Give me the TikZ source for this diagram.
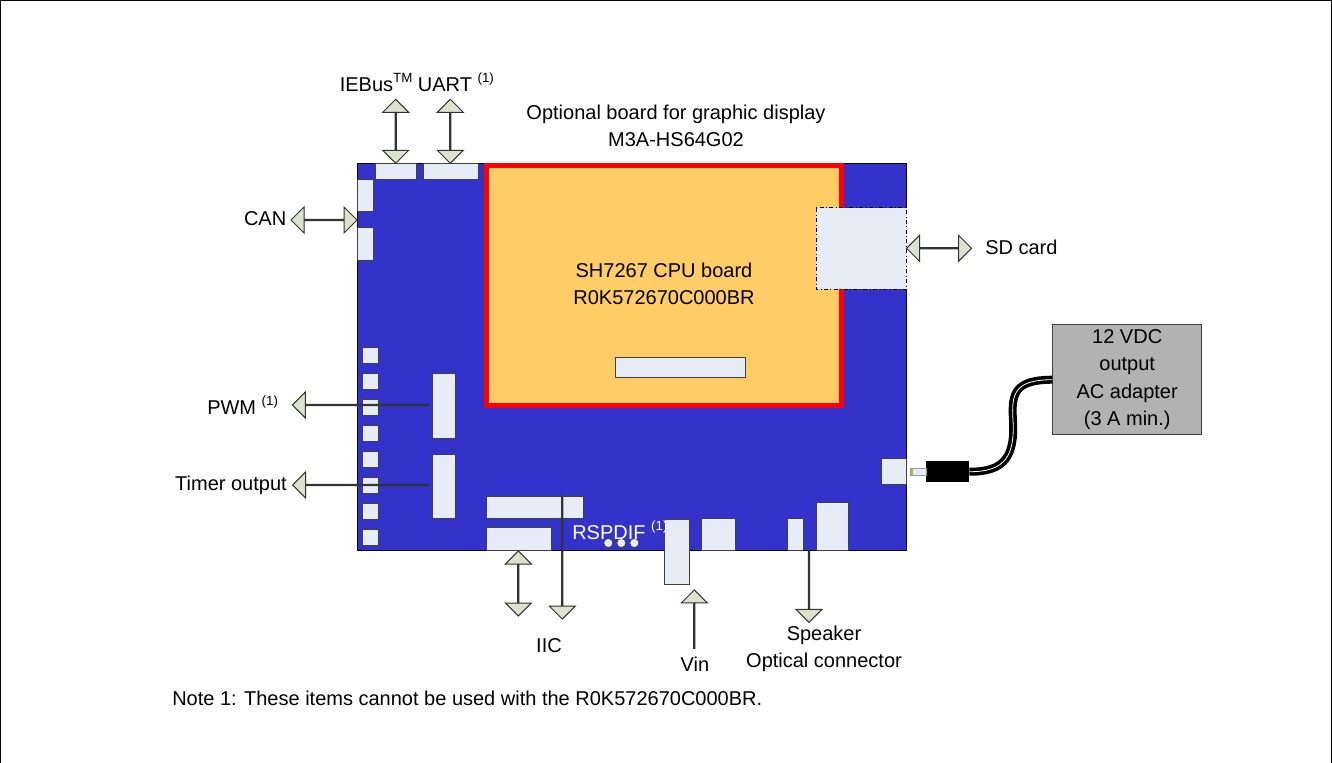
\documentclass[tikz,border=0pt]{standalone}
\usepackage{fontspec}
\setmainfont{Liberation Sans}
\usepackage{color}
\usetikzlibrary{shapes.arrows}
\definecolor{board}{RGB}{51, 51, 204}
\definecolor{cpu}{RGB}{255, 204, 102}
\definecolor{conn}{RGB}{230, 236, 246}
\definecolor{flow}{RGB}{221, 226, 205}
\definecolor{adapter}{RGB}{178, 178, 178}
\def\px{0.75pt}
\newcommand{\noteref}[1]{\raisebox{6.5pt}{\fontsize{10}{10}\selectfont #1}}
\tikzset{
  label/.style={inner sep=0pt, font=\fontsize{15}{20.5}\selectfont, align=center},
  connbox/.style={fill=conn, draw=black!75, line width=1*\px},
  oneway/.style={shape=single arrow, fill=flow, draw=black!80, line width=1*\px, inner sep=0pt,
    minimum width=26*\px, single arrow head extend=9*\px, single arrow tip angle=90},
  twoway/.style={shape=double arrow, fill=flow, draw=black!80, line width=1*\px, inner sep=0pt,
    minimum width=26*\px, double arrow head extend=9*\px, double arrow tip angle=90},
}
\begin{document}
\begin{tikzpicture}[x=0.75pt, y=-0.75pt]
\useasboundingbox (0,0) rectangle (1332,763);
% frame
\draw [line width=1*\px] (0.5,763) -- (0.5,0.5) -- (1331.5,0.5) -- (1331.5,763);

% main board
\draw [fill=board, line width=1.2*\px] (357.5,163.5) rectangle (906.5,550.5);
\draw [fill=cpu, draw=red, line width=5*\px] (486.5,165.5) rectangle (841.5,405.5);
\draw [connbox] (615,357) rectangle (745,377);

% top edge
\draw [connbox] (375,163.5) rectangle (416.5,180);
\draw [connbox] (423,163.5) rectangle (478.5,180);
% left edge
\draw [connbox] (357.5,179.5) rectangle (373,212);
\draw [connbox] (357.5,228) rectangle (373,260);
\foreach \y in {347.5,373.5,399.5,425.5,451,477,503,529}
  \draw [connbox] (362,\y) rectangle (378.5,\y+16);
\draw [connbox] (432.5,373.5) rectangle (455.5,438);
\draw [connbox] (432.5,454) rectangle (455.5,518.5);
% bottom edge
\draw [connbox] (486,496) rectangle (583,518.5);
\draw [connbox] (486,527.5) rectangle (551,550.5);
\draw [connbox] (664,519.5) rectangle (689.5,584);
\draw [connbox] (701.5,518.5) rectangle (735,550.5);
\draw [connbox] (787,518.5) rectangle (803,550.5);
\draw [connbox] (816,502) rectangle (848,550.5);
\draw [connbox] (881,458) rectangle (906.5,484);
\foreach \x in {608.3,621.3,634.3}
  \draw [fill=conn, draw=black!75, line width=0.8*\px] (\x,543) circle [radius=4.6];
% SD card
\draw [fill=conn, dash dot, line width=1*\px] (816,208) rectangle (906.5,289);

% arrows
\node (iebusflow) [twoway, minimum height=64*\px, rotate=90] at (395.7,131.3) {};
\node (uartflow) [twoway, minimum height=64*\px, rotate=90] at (450.3,131.3) {};
\node (canflow) [twoway, minimum height=66*\px] at (324,220) {};
\node (sdflow) [twoway, minimum height=65*\px] at (939,248.3) {};
\node (pwmflow) [oneway, minimum height=136*\px, rotate=180] at (360.7,405) {};
\node (timerflow) [oneway, minimum height=136*\px, rotate=180] at (361,485) {};
\node (iicflow) [twoway, minimum height=65*\px, rotate=90] at (518.3,583.5) {};
\node (lcdflow) [oneway, minimum height=123*\px, rotate=-90] at (562.3,557.2) {};
\node (vinflow) [oneway, minimum height=58.5*\px, rotate=90] at (694.3,619.5) {};
\node (speakerflow) [oneway, minimum height=71.5*\px, rotate=-90] at (809,586.3) {};

% adapter and plug
\node (acadapter) [fill=adapter, draw=black!75, line width=1*\px, label, minimum width=149*\px, minimum height=110*\px] at (1127.2,379.7)
  {12 VDC\\output\\AC adapter\\(3 A min.)};
\node (plug) [fill=black, inner sep=0pt, minimum width=43*\px, minimum height=20.5*\px] at (947.5,471.7) {};
\draw [black, line width=8*\px] (acadapter.west) .. controls (1016,380) and (1011,392) .. (1013,420)
  .. controls (1015,456) and (1005,472) .. (plug.east);
\draw [white, line width=0.8*\px] (acadapter.west) .. controls (1016,380) and (1011,392) .. (1013,420)
  .. controls (1015,456) and (1005,472) .. (plug.east);
\draw [fill=conn, draw=black!40, line width=0.7*\px] (910.5,468.5) rectangle (926,475);
\fill [yellow!70!black] (910.5,468.5) rectangle (913,475);

% labels
\node (iebuslabel) [label, anchor=west] at (339.5,82) {IEBus\noteref{TM} UART \noteref{(1)}};
\node (optionlabel) [label] at (676,126) {Optional board for graphic display\\M3A-HS64G02};
\node (canlabel) [label, anchor=east] at (286.5,219) {CAN};
\node (cpulabel) [label] at (664,284) {SH7267 CPU board\\R0K572670C000BR};
\node (sdlabel) [label, anchor=west] at (985,247) {SD card};
\node (pwmlabel) [label, anchor=west] at (207,405) {PWM \noteref{(1)}};
\node (timerlabel) [label, anchor=east] at (287,485) {Timer output};
\node (rspdiflabel) [label, text=white, anchor=west] at (572,530) {RSPDIF \noteref{(1)}};
\node (iiclabel) [label] at (549,645) {\phantom{LCD module}\\[-20.5pt]IIC};
\node (vinlabel) [label] at (695,664) {Vin};
\node (speakerlabel) [label] at (824,649) {Speaker\\Optical connector};
\node (notelabel) [label, anchor=west] at (172,698) {Note 1: These items cannot be used with the R0K572670C000BR.};
\end{tikzpicture}
\end{document}
